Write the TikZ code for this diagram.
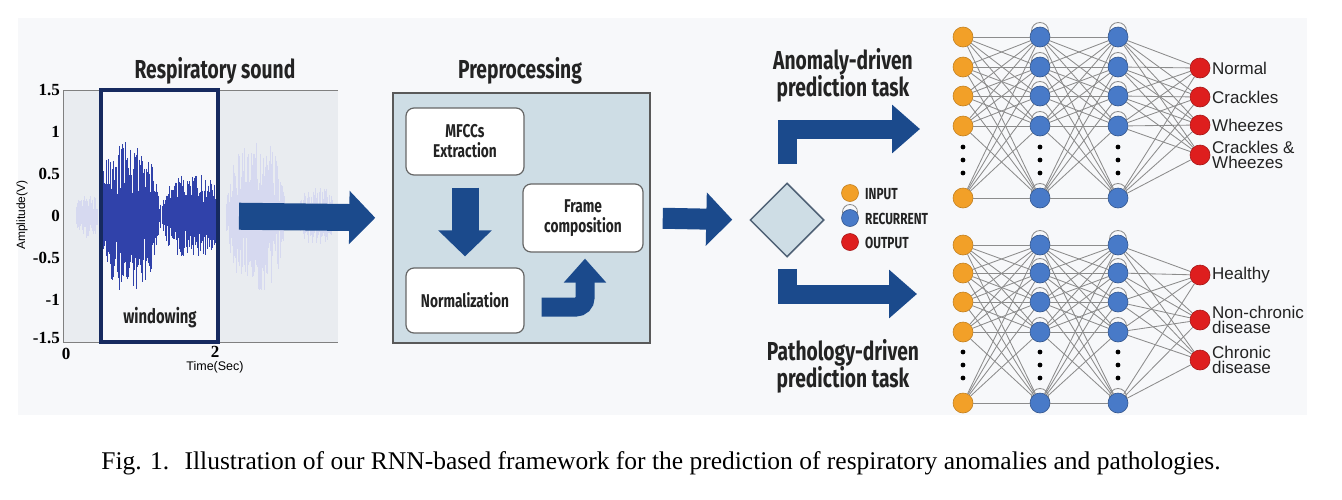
\documentclass[tikz,border=0pt]{standalone}
\usepackage{fontspec}
\setmainfont{Liberation Serif}
\setsansfont{Liberation Sans}
\newfontfamily\headfont[FakeStretch=0.74]{Fira Sans}
\usetikzlibrary{arrows.meta,shapes.geometric}

\definecolor{figbg}{RGB}{247,248,250}
\definecolor{plotbg}{RGB}{233,236,240}
\definecolor{arrowblue}{RGB}{27,74,140}
\definecolor{winnavy}{RGB}{22,42,95}
\definecolor{wavedark}{RGB}{48,66,170}
\definecolor{wavefaint}{RGB}{214,217,240}
\definecolor{prepfill}{RGB}{206,221,229}
\definecolor{diaedge}{RGB}{80,98,118}
\definecolor{inkgrey}{RGB}{35,35,35}
\definecolor{edgegrey}{RGB}{140,140,140}
\definecolor{inorange}{RGB}{242,160,40}
\definecolor{recblue}{RGB}{72,122,200}
\definecolor{outred}{RGB}{222,30,30}

\begin{document}
\begin{tikzpicture}[x=1pt, y=-1pt,
  every node/.style={inner sep=0pt},
  heading/.style={font={\headfont\bfseries\fontsize{26}{27}\selectfont}, text=inkgrey, align=center},
  boxtext/.style={font={\headfont\bfseries\fontsize{18.5}{20}\selectfont}, text=inkgrey, align=center},
  stepbox/.style={draw=gray!80!black, line width=1.2pt, fill=white, rounded corners=8pt, boxtext},
  legtext/.style={font={\headfont\bfseries\fontsize{16}{17}\selectfont}, text=inkgrey, anchor=west},
  outtext/.style={font={\sffamily\fontsize{17}{15}\selectfont}, text=inkgrey, anchor=west, align=left},
  ticklab/.style={font={\bfseries\fontsize{17}{18}\selectfont}, anchor=east},
  bigarrow/.style={draw=arrowblue, line width=27pt, line join=miter,
    -{Triangle[length=26pt,width=52pt]}},
  taskarrow/.style={draw=arrowblue, line width=19pt, line join=miter,
    -{Triangle[length=28pt,width=47pt]}},
  edge/.style={draw=edgegrey, line width=0.85pt},
  innode/.style={circle, minimum size=20pt, fill=inorange, draw=inorange!80!black, line width=0.6pt},
  recnode/.style={circle, minimum size=20pt, fill=recblue, draw=recblue!70!black, line width=0.6pt},
  outnode/.style={circle, minimum size=20pt, fill=outred, draw=outred!75!black, line width=0.6pt}]
\useasboundingbox (0,0) rectangle (1342,499);
\fill[white] (0,0) rectangle (1342,499);
\fill[figbg] (18,18) rectangle (1307,415);

% sound plot
\fill[plotbg] (63,90) rectangle (338,342);
\fill[figbg] (101,90) rectangle (218,342);
\draw[gray, line width=0.8pt] (338,90) -- (63,90) -- (63,342) -- (338,342);
\pgfmathsetseed{11}
\foreach \a/\b/\m/\s/\e/\c in {74/100/0.28/76/98/wavefaint, 224/288/0.9/226/286/wavefaint,
    296/338/0.35/298/336/wavefaint, 94/162/0.9/103/161/wavedark, 158/226/0.5/162/216/wavedark}{
  \pgfmathtruncatemacro\N{(\e-\s)/0.6}
  \foreach \n in {0,...,\N}{
    \pgfmathsetmacro\t{\s+0.6*\n}
    \pgfmathsetmacro\env{max(sin(180*(\t-\a)/(\b-\a)),0)}
    \pgfmathsetmacro\amp{83*\m*\env*(2-\env)}
    \draw[\c, line width=0.8pt] (\t,{216-\amp*(0.3+0.7*rnd)}) -- (\t,{216+\amp*(0.3+0.7*rnd)});
  }
}
\node[draw=winnavy, line width=4pt, minimum width=117pt, minimum height=252pt] (win) at (159.5,216) {};
\node[font={\headfont\bfseries\fontsize{20}{21}\selectfont}, text=inkgrey] (winlab) at (160,318) {windowing};
\foreach \v/\y [count=\k] in {1.5/90,1/132,0.5/174,0/216,-0.5/258,-1/300,-1.5/338}
  \node[ticklab] (tk\k) at (60,\y) {\v};
\node[font={\bfseries\fontsize{17}{18}\selectfont}] (tx0) at (66,354) {0};
\node[font={\bfseries\fontsize{17}{18}\selectfont}] (tx2) at (215,352) {2};
\node[font={\sffamily\fontsize{12.5}{14}\selectfont}] (xlab) at (215,367) {Time(Sec)};
\node[font={\sffamily\fontsize{12}{14}\selectfont}, rotate=90] (ylab) at (22,215) {Amplitude(V)};
\node[heading] (ttlwave) at (215,71) {Respiratory sound};

% preprocessing
\node[heading] (ttlprep) at (520,71) {Preprocessing};
\node[draw=gray!70!black, line width=1.5pt, fill=prepfill, minimum width=257pt, minimum height=250pt] (prep) at (521.5,218) {};
\node[stepbox, minimum width=118pt, minimum height=67pt] (mfcc) at (465,141.5) {MFCCs\\Extraction};
\node[stepbox, minimum width=118pt, minimum height=65pt] (norm) at (465,300.5) {Normalization};
\node[stepbox, minimum width=120pt, minimum height=68pt] (frame) at (583,218) {Frame\\composition};
\draw[bigarrow, shorten <=12pt, shorten >=11pt] (mfcc.south) -- (norm.north);
\draw[bigarrow, line width=19pt, rounded corners=9pt, shorten <=17pt, shorten >=6pt,
  -{Triangle[length=24pt,width=41pt]}] ([yshift=-6.5pt]norm.east) -| ([xshift=2pt]frame.south);

% flow arrows
\draw[bigarrow, shorten <=19pt, shorten >=17pt] (win.east) -- (prep.west);
\node[diamond, draw=diaedge, fill=prepfill, line width=1.5pt, minimum width=74pt, minimum height=74pt] (dia) at (787,220) {};
\draw[bigarrow, line width=21pt, shorten <=12pt, shorten >=17pt] (prep.east) -- (dia.west);
\coordinate (anotip) at (920,129);
\coordinate (pattip) at (917,294);
\draw[taskarrow, shorten <=18pt] (dia.north) |- (anotip);
\draw[taskarrow, shorten <=11pt] (dia.south) |- (pattip);
\node[heading] (ttlano) at (843,75) {Anomaly-driven\\prediction task};
\node[heading] (ttlpat) at (843,366) {Pathology-driven\\prediction task};

% legend
\node[innode, minimum size=17pt] (lgin) at (850,193) {};
\draw[edge] (850,212) circle (7.5);
\node[recnode, minimum size=17pt] (lgrec) at (850,218) {};
\node[outnode, minimum size=17pt] (lgout) at (850,242) {};
\node[legtext] (lgintx) at (865,194) {INPUT};
\node[legtext] (lgrectx) at (865,219) {RECURRENT};
\node[legtext] (lgouttx) at (865,243) {OUTPUT};

% anomaly network
\foreach \y [count=\k] in {37,67,96,126,198}{
  \node[innode] (ai\k) at (963,\y) {};
  \draw[edge] (1040,{\y-6}) circle (8.5);
  \node[recnode] (ah\k) at (1040,\y) {};
  \draw[edge] (1118,{\y-6}) circle (8.5);
  \node[recnode] (ag\k) at (1118,\y) {};
}
\foreach \y/\t [count=\k] in {68/Normal, 97/Crackles, 125/Wheezes, 155/{Crackles \&\\Wheezes}}{
  \node[outnode] (ao\k) at (1200,\y) {};
  \node[outtext] (aol\k) at (1212,\y) {\t};
}
\foreach \i in {1,...,5}{
  \foreach \j in {1,...,5}{
    \draw[edge] (ai\i) -- (ah\j);
    \draw[edge] (ah\i) -- (ag\j);
  }
  \foreach \j in {1,...,4}
    \draw[edge] (ag\i) -- (ao\j);
}

% pathology network
\foreach \y [count=\k] in {245,273,302,332,403}{
  \node[innode] (bi\k) at (963,\y) {};
  \draw[edge] (1040,{\y-6}) circle (8.5);
  \node[recnode] (bh\k) at (1040,\y) {};
  \draw[edge] (1118,{\y-6}) circle (8.5);
  \node[recnode] (bg\k) at (1118,\y) {};
}
\foreach \y/\t [count=\k] in {275/Healthy, 320/{Non-chronic\\disease}, 360/{Chronic\\disease}}{
  \node[outnode] (bo\k) at (1200,\y) {};
  \node[outtext] (bol\k) at (1212,\y) {\t};
}
\foreach \i in {1,...,5}{
  \foreach \j in {1,...,5}{
    \draw[edge] (bi\i) -- (bh\j);
    \draw[edge] (bh\i) -- (bg\j);
  }
  \foreach \j in {1,...,3}
    \draw[edge] (bg\i) -- (bo\j);
}
\foreach \x in {963,1040,1118}
  \foreach \y in {147,160,173,352,365,378}
    \fill (\x,\y) circle (2.4);

\node[font={\fontsize{25.5}{28}\selectfont}] (caption) at (661,463) {Fig. 1.\hspace{0.6em}Illustration of our RNN-based framework for the prediction of respiratory anomalies and pathologies.};
\end{tikzpicture}
\end{document}
